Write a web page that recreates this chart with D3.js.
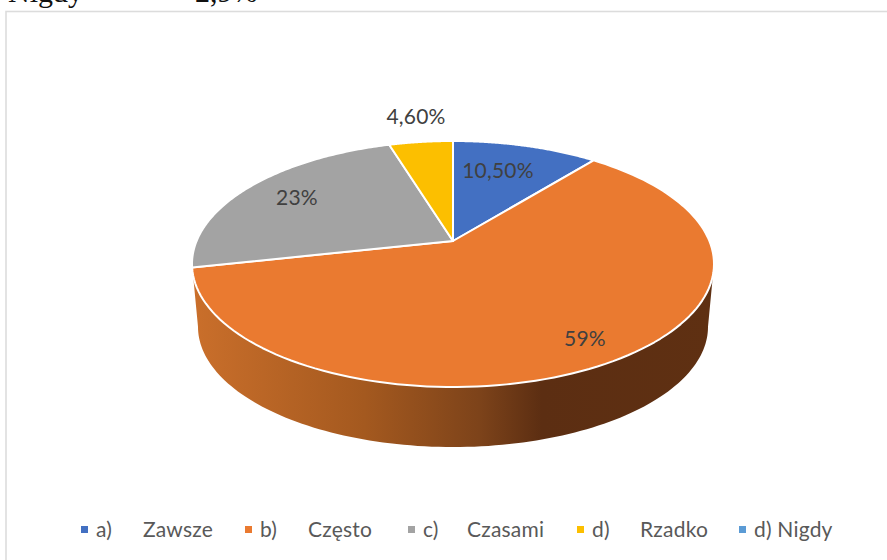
<!DOCTYPE html>
<html><head><meta charset="utf-8">
<style>html,body{margin:0;padding:0;background:#fff;overflow:hidden}svg{display:block}text{font-family:Lato,"Open Sans",sans-serif}</style>
<script src="https://cdn.jsdelivr.net/npm/d3@7/dist/d3.min.js"></script>
</head><body><svg id="c" width="887" height="560"></svg>
<script>
const legendPrefix = ["a)", "b)", "c)", "d)", "d) Nigdy"];
const legendNames = ["Zawsze", "Często", "Czasami", "Rzadko", ""];
const sliceValues = [10.5, 59, 23, 4.6, 0];
const sliceLabels = ["10,50%", "59%", "23%", "4,60%", ""];
const sliceColors = ["#4370c2", "#ea7a30", "#a3a3a3", "#fcbf00", "#5b9bd5"];
const legendKeyX = [81, 245, 408, 577, 739];
const legendNameX = [143, 308, 467, 640, 0];
const labelPos = [[498, 171], [585, 339], [297, 198], [416, 117]];

const svg = d3.select("#c");
const K = 0.187, A = 118.7, B = 256.4, CX = 453, CY = 241;
const project = (t, scale = 1, dy = 0) => {
  const u = Math.sin(t), v = -Math.cos(t), d = 1 - K * v;
  return [CX + scale * B * u / d, CY + dy + scale * A * v / d];
};
const steps = (a, b) => d3.range(0, 121).map(i => a + (b - a) * i / 120);
const line = d3.line();

const pie = d3.pie().sort(null).value(d => d)(sliceValues);

svg.append("text").attr("x", 8).attr("y", 2).attr("font-size", 30)
  .style("font-family", "'Liberation Serif',serif").attr("fill", "#111").text("Nigdy");
svg.append("text").attr("x", 195).attr("y", 2).attr("font-size", 30)
  .style("font-family", "'Liberation Serif',serif").attr("fill", "#111").text("2,9%");

svg.append("rect").attr("x", 6).attr("y", 11.5).attr("width", 890).attr("height", 560)
  .attr("fill", "#fff").attr("stroke", "#dcdcdc").attr("stroke-width", 1.6);
svg.raise();

const grad = svg.append("defs").append("linearGradient").attr("id", "side")
  .attr("gradientUnits", "userSpaceOnUse").attr("x1", 192).attr("x2", 714).attr("y1", 0).attr("y2", 0);
[[0, "#ca6f2b"], [0.33, "#a4591f"], [0.55, "#7d431a"], [0.67, "#5c2e12"], [1, "#5f3012"]]
  .forEach(s => grad.append("stop").attr("offset", s[0]).attr("stop-color", s[1]));

// visible front wall, between the two silhouette points of the rim
const tR = Math.PI - Math.acos(K), tL = Math.PI + Math.acos(K);
const upper = steps(tR, tL).map(t => project(t));
const lower = steps(tL, tR).map(t => project(t, 0.977, 63.4));
svg.append("path").attr("d", line(upper.concat(lower)) + "Z").attr("fill", "url(#side)");

svg.append("g").selectAll("path").data(pie.filter(d => d.value > 0)).join("path")
  .attr("d", d => line([[CX, CY]].concat(steps(d.startAngle, d.endAngle).map(t => project(t)))) + "Z")
  .attr("fill", d => sliceColors[d.index])
  .attr("stroke", "#fff").attr("stroke-width", 2).attr("stroke-linejoin", "round");

svg.append("g").selectAll("text").data(sliceLabels.filter(s => s)).join("text")
  .attr("x", (d, i) => labelPos[i][0]).attr("y", (d, i) => labelPos[i][1])
  .attr("text-anchor", "middle").attr("dy", "0.35em").attr("font-size", 21).attr("letter-spacing", 0.2)
  .attr("fill", "#404040").text(d => d);

const lg = svg.append("g").selectAll("g").data(legendPrefix).join("g");
lg.append("rect").attr("x", (d, i) => legendKeyX[i]).attr("y", 526).attr("width", 7).attr("height", 7)
  .attr("fill", (d, i) => sliceColors[i]);
lg.append("text").attr("x", (d, i) => legendKeyX[i] + 15).attr("y", 537).attr("font-size", 21).attr("letter-spacing", 0.2)
  .attr("fill", "#595959").text(d => d);
lg.append("text").attr("x", (d, i) => legendNameX[i]).attr("y", 537).attr("font-size", 21).attr("letter-spacing", 0.2)
  .attr("fill", "#595959").text((d, i) => legendNames[i]);
</script></body></html>
